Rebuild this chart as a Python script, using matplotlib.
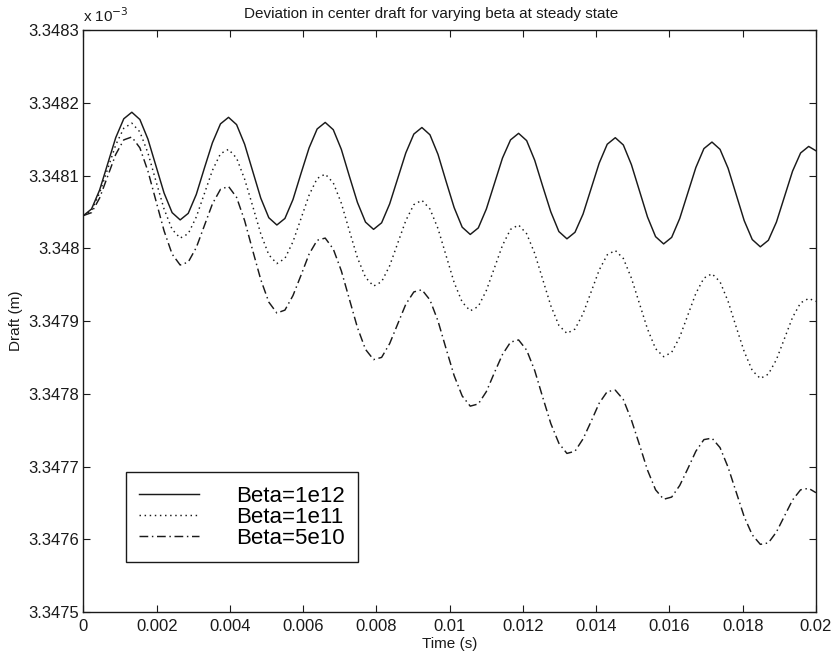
import numpy as np
import matplotlib
matplotlib.use("Agg")
import matplotlib.pyplot as plt
from matplotlib.ticker import FuncFormatter, MultipleLocator

plt.rcParams["font.family"] = ["Liberation Sans", "DejaVu Sans"]

# time samples [ms]
TIME_MS = [
    0.00, 0.22, 0.44, 0.66, 0.88, 1.10, 1.32, 1.54, 1.76, 1.98, 2.20, 2.42,
    2.64, 2.86, 3.08, 3.30, 3.52, 3.74, 3.96, 4.18, 4.40, 4.62, 4.84, 5.06,
    5.28, 5.50, 5.72, 5.94, 6.16, 6.38, 6.60, 6.82, 7.04, 7.26, 7.48, 7.70,
    7.92, 8.14, 8.36, 8.58, 8.80, 9.02, 9.24, 9.46, 9.68, 9.90, 10.12, 10.34,
    10.56, 10.78, 11.00, 11.22, 11.44, 11.66, 11.88, 12.10, 12.32, 12.54, 12.76, 12.98,
    13.20, 13.42, 13.64, 13.86, 14.08, 14.30, 14.52, 14.74, 14.96, 15.18, 15.40, 15.62,
    15.84, 16.06, 16.28, 16.50, 16.72, 16.94, 17.16, 17.38, 17.60, 17.82, 18.04, 18.26,
    18.48, 18.70, 18.92, 19.14, 19.36, 19.58, 19.80, 20.00,
]

# center draft = 3.348 mm + deviation [nm]
DRAFT_BASE_MM = 3.348

DEV_BETA_1E12 = [
    45, 54, 80, 116, 152, 178, 187, 177, 150, 113, 76, 49,
    39, 48, 74, 110, 145, 171, 180, 170, 143, 106, 69, 42,
    32, 41, 67, 103, 138, 164, 173, 163, 136, 99, 63, 36,
    26, 35, 61, 96, 131, 157, 166, 156, 129, 92, 56, 29,
    19, 28, 54, 89, 124, 149, 158, 148, 121, 85, 50, 23,
    13, 22, 47, 82, 117, 143, 152, 142, 115, 79, 43, 16,
    6, 15, 41, 76, 111, 137, 146, 136, 110, 74, 38, 12,
    2, 11, 36, 71, 106, 131, 140, 134,
]

DEV_BETA_1E11 = [
    45, 52, 76, 109, 142, 165, 172, 160, 131, 92, 54, 26,
    14, 20, 43, 75, 107, 130, 136, 124, 95, 58, 20, -9,
    -21, -14, 9, 41, 73, 96, 102, 90, 62, 24, -13, -40,
    -52, -46, -24, 7, 38, 60, 66, 54, 27, -10, -47, -74,
    -86, -80, -58, -27, 4, 26, 32, 20, -7, -43, -79, -106,
    -117, -111, -90, -60, -30, -9, -3, -14, -41, -76, -111, -138,
    -149, -143, -122, -92, -62, -41, -35, -46, -73, -108, -142, -168,
    -179, -173, -153, -124, -95, -75, -69, -73,
]

DEV_BETA_5E10 = [
    45, 49, 69, 99, 129, 149, 153, 138, 106, 65, 24, -8,
    -23, -19, 1, 31, 61, 81, 85, 70, 38, -3, -43, -74,
    -89, -85, -65, -37, -8, 11, 14, -1, -31, -70, -109, -139,
    -153, -150, -131, -104, -77, -60, -57, -71, -100, -138, -175, -203,
    -217, -214, -197, -171, -146, -129, -126, -140, -168, -205, -241, -268,
    -282, -279, -262, -238, -213, -197, -195, -208, -236, -270, -305, -332,
    -345, -342, -326, -303, -279, -263, -261, -274, -301, -335, -369, -394,
    -407, -405, -390, -368, -346, -332, -330, -336,
]

LABELS = ["Beta=1e12", "Beta=1e11", "Beta=5e10"]
STYLES = ["-", (0, (1, 2.5)), (0, (6, 2.5, 1, 2.5))]

X_TICKS = [0, 0.002, 0.004, 0.006, 0.008, 0.01, 0.012, 0.014, 0.016, 0.018, 0.02]


def to_draft(dev_nm):
    # in units of 1e-3 m
    return DRAFT_BASE_MM + np.asarray(dev_nm) * 1e-6


def main():
    t = np.asarray(TIME_MS) / 1000.0

    fig = plt.figure(figsize=(8.34, 6.6), dpi=100)
    ax = fig.add_axes([0.1001, 0.0727, 0.8783, 0.8818])

    series = [DEV_BETA_1E12, DEV_BETA_1E11, DEV_BETA_5E10]
    for dev, label, ls in zip(series, LABELS, STYLES):
        ax.plot(t, to_draft(dev), color="#1a1a1a", linewidth=1.05,
                linestyle=ls, label=label, solid_joinstyle="round",
                dash_joinstyle="round")

    ax.set_xlim(0, 0.02)
    ax.set_ylim(3.3475, 3.3483)
    ax.set_xticks(X_TICKS)
    ax.yaxis.set_major_locator(MultipleLocator(0.0001))

    ax.xaxis.set_major_formatter(FuncFormatter(lambda v, pos: f"{round(v, 4):g}"))
    ax.yaxis.set_major_formatter(FuncFormatter(lambda v, pos: f"{round(v, 4):g}"))

    ax.tick_params(direction="in", length=5, width=0.8, top=True, right=True,
                   labelsize=12, colors="#1a1a1a")
    ax.tick_params(axis="y", pad=3)
    ax.tick_params(axis="x", pad=5)
    for sp in ax.spines.values():
        sp.set_linewidth(1.0)
        sp.set_color("#1a1a1a")

    ax.set_title("Deviation in center draft for varying beta at steady state",
                 fontsize=11, x=0.474, pad=9, color="#1a1a1a")
    ax.set_xlabel("Time (s)", fontsize=11, labelpad=2, color="#1a1a1a")
    ax.set_ylabel("Draft (m)", fontsize=11, labelpad=4, color="#1a1a1a")

    ax.text(0.0, 1.008, r"x 10$^{-3}$", transform=ax.transAxes,
            fontsize=11, ha="left", va="bottom", color="#1a1a1a")

    leg = ax.legend(loc="lower left", bbox_to_anchor=(0.058, 0.086),
                    borderaxespad=0, fontsize=16, frameon=True, fancybox=False,
                    framealpha=1, edgecolor="#1a1a1a", handlelength=2.7,
                    handletextpad=1.65, labelspacing=0.0, borderpad=0.6)
    leg.get_frame().set_linewidth(1.0)

    fig.savefig("out.png", dpi=100)


if __name__ == "__main__":
    main()
